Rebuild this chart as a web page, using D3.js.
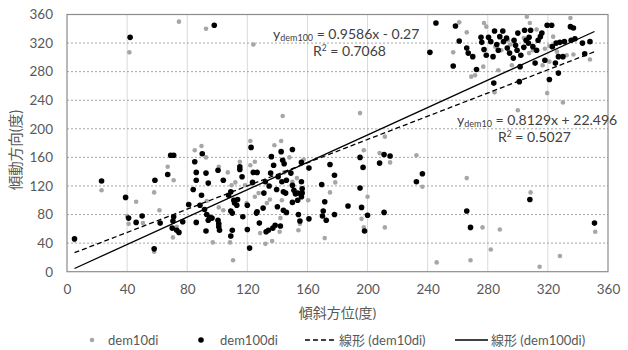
<!DOCTYPE html>
<html>
<head>
<meta charset="utf-8">
<script src="https://cdn.jsdelivr.net/npm/d3@7"></script>
<style>
  html, body { margin: 0; padding: 0; background: #fff; }
  svg { display: block; }
  text { font-family: Lato, "Open Sans", "Noto Sans CJK JP", sans-serif; fill: #595959; }
</style>
</head>
<body>
<svg id="chart" width="628" height="350"></svg>
<script>
// ---- Data ----
const xTicks = [0, 40, 80, 120, 160, 200, 240, 280, 320, 360];
const yTicks = [0, 40, 80, 120, 160, 200, 240, 280, 320, 360];

const dem10di = [
  [5,44],[23,114],[41.5,307],[74.5,350],[92.5,340],[124,318],[40,78],[41,67],[46,98],[50.5,68],
  [58,111],[58,28],[61.5,86],[67,147],[71,128],[70.5,48],[73,63],[85,170],[89.5,176],[92.5,160],
  [97,41],[101,147],[101,90],[93,99],[107,139],[108.5,41],[110.5,16],[112,125],[115,154],[118.5,121],
  [122,183],[122,149],[125,154],[125,105],[128.5,54],[132,39],[136.5,43],[138,177],[142.5,183],[143.5,218],
  [144.5,139],[143,100],[148,160],[148.5,138],[150,126],[153,131],[154,58],[155,67],[160.5,100],[157.5,157],
  [142,75],[141.5,56],[135,101],[133,96],[127.5,110],[119.5,96],[109.5,121],[104,86],
  [195,222],[211.5,189],[208,166],[215,153],[197.5,170],[178.5,125],[175,111],[171.5,47],[200,105],[196,74],
  [197.5,62],[211.5,62],[232.5,163],[236.5,119],[246,13],[257,307],[261,349],[266,131],[268.5,16],[276.5,62],
  [288,59],[282,31],[266,335],[269,273],[271.5,275],[277,287],[277.5,348],[279,343],[284.5,251],[287,282],
  [289,310],[293.5,324],[296,289],[300,226],[304,327],[306,357],[308,348],[308.5,111],[310,310],[312.5,339],
  [314.5,7],[316.5,289],[319.5,250],[321,294],[323.5,329],[328,22],[330,237],[332.5,303],[335,355],[337,304],
  [348,297],[351.5,56],[321,316],[307.5,306],[285,315],[295,318],[318,312],[326,308]
];

const dem100di = [
  [5,46],[23,127],[39,104],[42,328],[41,75],[46,69],[50,78],[58.5,128],[58,32],[62,68],
  [67,136],[69,163],[71,163],[70.5,71],[71,77],[70,61],[73,58],[74.5,55],[77,70],[81,94],
  [84,115],[85,154],[86,139],[86,128],[86,69],[90,165],[89.5,107],[88.5,93],[92.5,138],[94,124],
  [98,345],[100.5,142],[91.5,87],[93,80],[94,72],[92.5,57],[95,76],[96.5,75],[100.5,72],[101,63],
  [101.5,58],[101,67],[104,128],[107.5,107],[109,112],[109,85],[110,82],[111,100],[110,58],[109,50],
  [111.5,96],[113,93],[113.5,101],[115,147],[115,143],[116.5,133],[117,77],[120,93],[120,59],[121.5,33],
  [122.5,174],[124,139],[123.5,125],[126.5,139],[126,82],[126.5,84],[128,68],[130.5,89],[131,110],[132,126],
  [132.5,56],[134,58],[134.5,120],[135.5,138],[136,161],[137.5,149],[137,61],[138.5,65],[139.5,115],[140.5,133],
  [142,64],[140,91],[142.5,168],[143.5,156],[144.5,151],[143,126],[144,112],[145.5,110],[144,86],[146,83],
  [146,128],[150,171],[150,121],[149,138],[151,114],[152,109],[150,97],[153.5,110],[153.5,100],[154,80],
  [155,71],[156,153],[156,126],[156.5,116],[156.5,110],[156,105],[161,74],[161,145],
  [175,150],[178,135],[171.5,98],[170.5,85],[169.5,122],[170,78],[172.5,72],[178,80],[187,92],[195,160],
  [195,117],[197,146],[196,90],[200,79],[198,57],[208,152],[211,164],[215,162],[211,83],[232.5,126],
  [236.5,137],[241.5,307],[245.5,348],[257,288],[258.5,344],[261,323],[266,85],[268.5,62],[266,313],[267,306],
  [270,301],[272.5,283],[275.5,328],[276,321],[277.5,311],[279,303],[280.5,328],[282,322],[284,264],[284.5,337],
  [286,318],[287,310],[283.5,301],[288,329],[290,337],[290.5,322],[293,313],[292.5,327],[294.5,306],[297,299],
  [297.5,324],[298.5,317],[299.5,310],[300,334],[301,266],[301.5,287],[302,303],[304,314],[304.5,338],[305.5,324],
  [307,320],[307.5,328],[308.5,338],[308,101],[310,315],[311.5,292],[312.5,310],[313.5,324],[315,329],[316,334],
  [318,296],[319.5,345],[321,269],[322.5,345],[323,315],[325,292],[325.5,320],[327,278],[327,301],[328,321],
  [330,301],[331,322],[335,343],[335.5,324],[337,341],[338,326],[343,320],[344.5,305],[348,322],[351,68]
];

// trendline coefficients (from the chart's equations)
const fit10 = { slope: 0.8129, intercept: 22.496 };
const fit100 = { slope: 0.9586, intercept: -0.27 };

const xTitle = "傾斜方位(度)";
const yTitle = "傾動方向(度)";
const legendLabels = ["dem10di", "dem100di", "線形 (dem10di)", "線形 (dem100di)"];

// ---- Layout ----
const W = 628, H = 350;
const margin = { left: 67, right: 20, top: 14.5, bottom: 78.3 };
const iw = W - margin.left - margin.right;
const ih = H - margin.top - margin.bottom;

const svg = d3.select("#chart");
const g = svg.append("g").attr("transform", `translate(${margin.left},${margin.top})`);

const x = d3.scaleLinear().domain([0, 360]).range([0, iw]);
const y = d3.scaleLinear().domain([0, 360]).range([ih, 0]);

// vertical gridlines (solid light)
g.append("g").selectAll("line").data(xTicks.slice(1, -1)).join("line")
  .attr("x1", d => x(d)).attr("x2", d => x(d))
  .attr("y1", 0).attr("y2", ih)
  .attr("stroke", "#d9d9d9").attr("stroke-width", 1);

// horizontal gridlines (dotted)
g.append("g").selectAll("line").data(yTicks.slice(1, -1)).join("line")
  .attr("x1", 0).attr("x2", iw)
  .attr("y1", d => y(d)).attr("y2", d => y(d))
  .attr("stroke", "#a6a6a6").attr("stroke-width", 1).attr("stroke-dasharray", "2,2");

// frame
g.append("rect").attr("x", 0).attr("y", 0).attr("width", iw).attr("height", ih)
  .attr("fill", "none").attr("stroke", "#8c8c8c").attr("stroke-width", 1.2);

// axes labels via d3 axes
const xAxis = g.append("g").attr("transform", `translate(0,${ih})`)
  .call(d3.axisBottom(x).tickValues(xTicks).tickSize(0).tickPadding(13));
const yAxis = g.append("g")
  .call(d3.axisLeft(y).tickValues(yTicks).tickSize(0).tickPadding(14));
[xAxis, yAxis].forEach(a => {
  a.select(".domain").remove();
  a.selectAll("text").attr("font-size", 13.5).attr("font-family", "Lato, 'Open Sans', sans-serif").attr("fill", "#595959");
});

// points
g.append("g").selectAll("circle").data(dem10di).join("circle")
  .attr("cx", d => x(d[0])).attr("cy", d => y(d[1])).attr("r", 2.3)
  .attr("fill", "#a6a6a6");
g.append("g").selectAll("circle").data(dem100di).join("circle")
  .attr("cx", d => x(d[0])).attr("cy", d => y(d[1])).attr("r", 2.8)
  .attr("fill", "#000");

// trendlines
function trend(data, fit, dash) {
  const ext = d3.extent(data, d => d[0]);
  const line = d3.line().x(d => x(d)).y(d => y(fit.slope * d + fit.intercept));
  g.append("path").datum(ext).attr("d", line)
    .attr("fill", "none").attr("stroke", "#000").attr("stroke-width", 1.3)
    .attr("stroke-dasharray", dash);
}
trend(dem10di, fit10, "5,3");
trend(dem100di, fit100, null);

// equations
function equation(xp, yp, sub, rhs, r2, r2x) {
  const t = svg.append("text").attr("x", xp).attr("y", yp).attr("font-size", 14).style("fill", "#404040");
  t.append("tspan").text("y");
  t.append("tspan").attr("font-size", 9).attr("dy", 2).text(sub);
  t.append("tspan").attr("dy", -2).text(" = " + rhs);
  const t2 = svg.append("text").attr("x", r2x).attr("y", yp + 17).attr("font-size", 14).style("fill", "#404040");
  t2.append("tspan").text("R");
  t2.append("tspan").attr("font-size", 8.5).attr("dy", -5).text("2");
  t2.append("tspan").attr("dy", 5).text(" = " + r2);
}
equation(273, 39, "dem100", "0.9586x - 0.27", "0.7068", 313);
equation(457, 125, "dem10", "0.8129x + 22.496", "0.5027", 498);

// axis titles
svg.append("text").attr("x", margin.left + iw / 2).attr("y", 318)
  .attr("text-anchor", "middle").attr("font-size", 14)
  .attr("font-family", "'Noto Sans CJK TC', 'Noto Sans CJK JP', sans-serif").text(xTitle);
svg.append("text").attr("transform", "translate(21,150) rotate(-90)")
  .attr("text-anchor", "middle").attr("font-size", 14.5)
  .attr("font-family", "'Noto Sans CJK TC', 'Noto Sans CJK JP', sans-serif").text(yTitle);

// legend
const ly = 340;
const lg = svg.append("g");
lg.append("circle").attr("cx", 92).attr("cy", ly).attr("r", 2.3).attr("fill", "#a6a6a6");
lg.append("circle").attr("cx", 201).attr("cy", ly).attr("r", 2.8).attr("fill", "#000");
lg.append("line").attr("x1", 305).attr("x2", 335).attr("y1", ly).attr("y2", ly)
  .attr("stroke", "#000").attr("stroke-width", 1.3).attr("stroke-dasharray", "5,3");
lg.append("line").attr("x1", 455).attr("x2", 488).attr("y1", ly).attr("y2", ly)
  .attr("stroke", "#000").attr("stroke-width", 1.3);
const lx = [108, 220, 339, 491];
legendLabels.forEach((s, i) => {
  lg.append("text").attr("x", lx[i]).attr("y", ly + 4.5).attr("font-size", 13)
    .attr("font-family", "Lato, 'Noto Sans CJK TC', 'Noto Sans CJK JP', sans-serif").text(s);
});
</script>
</body>
</html>
